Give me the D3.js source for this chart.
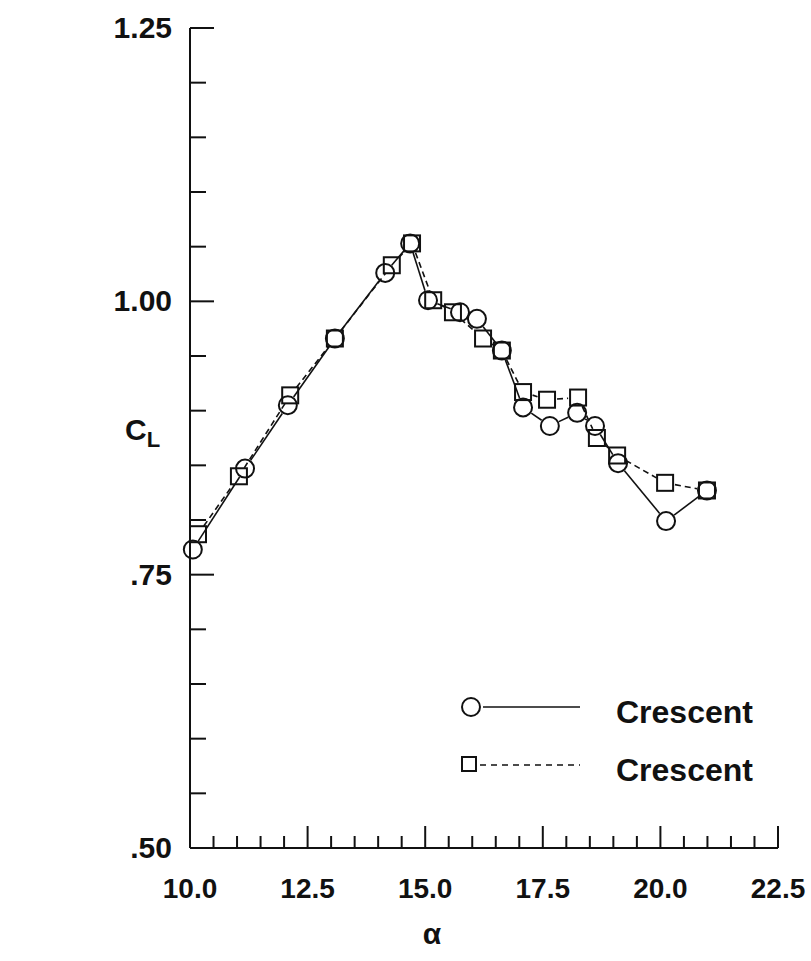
<!DOCTYPE html>
<html>
<head>
<meta charset="utf-8">
<script src="https://cdn.jsdelivr.net/npm/d3@7"></script>
<style>
  html, body { margin: 0; padding: 0; background: #fff; }
  svg { display: block; }
  text { font-family: "Liberation Sans", Arial, Helvetica, sans-serif; font-weight: bold; fill: #111; }
</style>
</head>
<body>
<svg id="chart" width="811" height="961"></svg>
<script>
// Angle of attack (deg) and lift coefficient for the two runs
const alphaRun1 = [10.06, 11.17, 12.08, 13.08, 14.15, 14.68, 15.06, 15.74, 16.10, 16.63, 17.08, 17.65, 18.23, 18.61, 19.10, 20.12, 20.99];
const clRun1    = [0.773, 0.847, 0.905, 0.966, 1.026, 1.053, 1.001, 0.990, 0.984, 0.955, 0.903, 0.886, 0.898, 0.886, 0.852, 0.799, 0.827];

const alphaRun2 = [10.17, 11.04, 12.13, 13.08, 14.29, 14.72, 15.17, 15.59, 16.23, 16.63, 17.08, 17.59, 18.25, 18.65, 19.08, 20.10, 20.99];
const clRun2    = [0.787, 0.840, 0.914, 0.966, 1.033, 1.053, 1.001, 0.990, 0.966, 0.955, 0.917, 0.910, 0.912, 0.875, 0.859, 0.834, 0.827];

const seriesNames = ["Crescent", "Crescent"];

const xMajorTicks = [10.0, 12.5, 15.0, 17.5, 20.0, 22.5];
const xTickLabels = ["10.0", "12.5", "15.0", "17.5", "20.0", "22.5"];
const yMajorTicks = [0.50, 0.75, 1.00, 1.25];
const yTickLabels = [".50", ".75", "1.00", "1.25"];

const svg = d3.select("#chart");

const x = d3.scaleLinear().domain([10, 22.5]).range([190, 778]);
const y = d3.scaleLinear().domain([0.5, 1.25]).range([848, 28]);

const ink = "#111";

// ---- axes ----
const axisG = svg.append("g");
axisG.append("line")
  .attr("x1", x(10)).attr("x2", x(10))
  .attr("y1", y(0.5)).attr("y2", y(1.25))
  .attr("stroke", ink).attr("stroke-width", 2);
axisG.append("line")
  .attr("x1", x(10)).attr("x2", x(22.5))
  .attr("y1", y(0.5)).attr("y2", y(0.5))
  .attr("stroke", ink).attr("stroke-width", 2);

// y ticks every 0.05, pointing inward
const yTicks = d3.range(0, 16).map(i => +(0.5 + i * 0.05).toFixed(2));
axisG.selectAll(".ytick").data(yTicks.filter(v => v > 0.5)).join("line")
  .attr("x1", x(10))
  .attr("x2", d => x(10) + (yMajorTicks.some(m => Math.abs(m - d) < 1e-6) ? 24 : 16))
  .attr("y1", d => y(d)).attr("y2", d => y(d))
  .attr("stroke", ink).attr("stroke-width", 2);

// x ticks every 0.5, pointing up
const xTicks = d3.range(0, 26).map(i => +(10 + i * 0.5).toFixed(2));
axisG.selectAll(".xtick").data(xTicks.filter(v => v > 10)).join("line")
  .attr("x1", d => x(d)).attr("x2", d => x(d))
  .attr("y1", y(0.5))
  .attr("y2", d => y(0.5) - (xMajorTicks.some(m => Math.abs(m - d) < 1e-6) ? 22 : 12))
  .attr("stroke", ink).attr("stroke-width", 2);

// tick labels
svg.selectAll(".ylab").data(yMajorTicks).join("text")
  .attr("x", 172)
  .attr("y", d => y(d) + 10)
  .attr("text-anchor", "end")
  .attr("font-size", 30)
  .text((d, i) => yTickLabels[i]);

svg.selectAll(".xlab").data(xMajorTicks).join("text")
  .attr("x", d => x(d))
  .attr("y", 898)
  .attr("text-anchor", "middle")
  .attr("font-size", 28)
  .text((d, i) => xTickLabels[i]);

// axis titles
svg.append("text").attr("x", 432).attr("y", 944)
  .attr("text-anchor", "middle").attr("font-size", 30).text("α");
const cl = svg.append("text").attr("x", 125).attr("y", 440).attr("font-size", 30);
cl.append("tspan").text("C");
cl.append("tspan").attr("font-size", 22).attr("dy", 7).text("L");

// ---- data ----
const R = 9;      // circle radius
const S = 16;     // square side

function gapSegments(xs, ys, gap) {
  const segs = [];
  for (let i = 0; i < xs.length - 1; i++) {
    const x1 = x(xs[i]), y1 = y(ys[i]), x2 = x(xs[i + 1]), y2 = y(ys[i + 1]);
    const dx = x2 - x1, dy = y2 - y1, len = Math.hypot(dx, dy);
    if (len <= 2 * gap + 1) continue;
    const ux = dx / len, uy = dy / len;
    segs.push([x1 + ux * gap, y1 + uy * gap, x2 - ux * gap, y2 - uy * gap]);
  }
  return segs;
}

const run1 = alphaRun1.map((a, i) => ({ a, c: clRun1[i] }));
const run2 = alphaRun2.map((a, i) => ({ a, c: clRun2[i] }));

svg.append("g").selectAll("line").data(gapSegments(alphaRun1, clRun1, R + 1)).join("line")
  .attr("x1", d => d[0]).attr("y1", d => d[1]).attr("x2", d => d[2]).attr("y2", d => d[3])
  .attr("stroke", ink).attr("stroke-width", 1.6);

svg.append("g").selectAll("line").data(gapSegments(alphaRun2, clRun2, R + 1)).join("line")
  .attr("x1", d => d[0]).attr("y1", d => d[1]).attr("x2", d => d[2]).attr("y2", d => d[3])
  .attr("stroke", ink).attr("stroke-width", 1.6).attr("stroke-dasharray", "6,4");

svg.append("g").selectAll("circle").data(run1).join("circle")
  .attr("cx", d => x(d.a)).attr("cy", d => y(d.c)).attr("r", R)
  .attr("fill", "none").attr("stroke", ink).attr("stroke-width", 2);

svg.append("g").selectAll("rect").data(run2).join("rect")
  .attr("x", d => x(d.a) - S / 2).attr("y", d => y(d.c) - S / 2)
  .attr("width", S).attr("height", S)
  .attr("fill", "none").attr("stroke", ink).attr("stroke-width", 2);

// ---- legend ----
const leg = svg.append("g");
leg.append("circle").attr("cx", 471).attr("cy", 707).attr("r", R)
  .attr("fill", "none").attr("stroke", ink).attr("stroke-width", 2);
leg.append("line").attr("x1", 483).attr("x2", 580).attr("y1", 707).attr("y2", 707)
  .attr("stroke", ink).attr("stroke-width", 1.6);
leg.append("text").attr("x", 616).attr("y", 723).attr("font-size", 32).text(seriesNames[0]);

leg.append("rect").attr("x", 462).attr("y", 757).attr("width", S - 2).attr("height", S - 2)
  .attr("fill", "none").attr("stroke", ink).attr("stroke-width", 2);
leg.append("line").attr("x1", 480).attr("x2", 580).attr("y1", 765).attr("y2", 765)
  .attr("stroke", ink).attr("stroke-width", 1.6).attr("stroke-dasharray", "6,5");
leg.append("text").attr("x", 616).attr("y", 781).attr("font-size", 32).text(seriesNames[1]);
</script>
</body>
</html>
